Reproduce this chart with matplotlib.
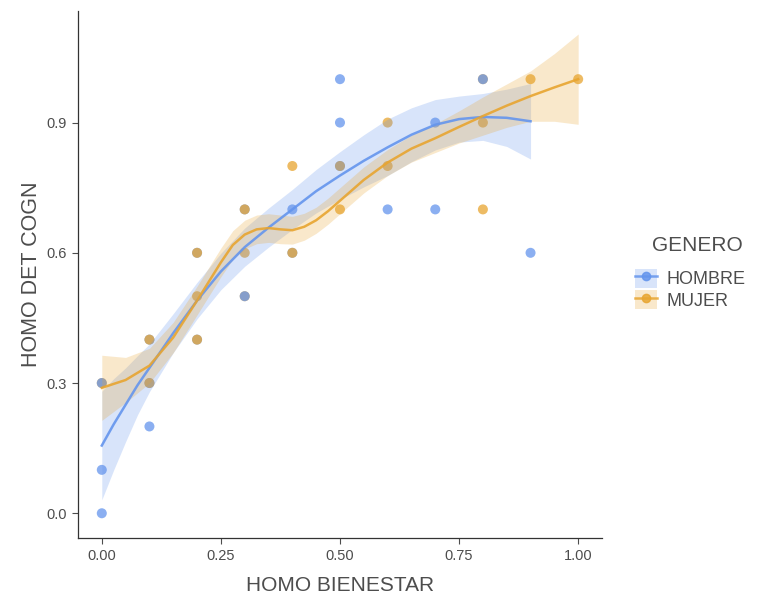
import matplotlib.pyplot as plt
from matplotlib.lines import Line2D
from matplotlib.patches import Patch

plt.rcParams["font.family"] = ["Liberation Sans", "DejaVu Sans"]

# ---------------------------------------------------------------------------
# Datos, en el orden en que se dibujan
# ---------------------------------------------------------------------------
punto_x = [0.0, 0.0, 0.1, 0.4, 0.5, 0.5, 0.6, 0.7, 0.7, 0.9,
           0.1, 0.1, 0.2, 0.2, 0.3, 0.4, 0.5,
           0.1, 0.1, 0.2, 0.2, 0.3, 0.4, 0.5,
           0.0, 0.3, 0.8,
           0.0, 0.3, 0.8,
           0.2, 0.3, 0.4, 0.5, 0.6, 0.6, 0.8, 0.8, 0.9, 1.0]
punto_y = [0.0, 0.1, 0.2, 0.7, 0.9, 1.0, 0.7, 0.7, 0.9, 0.6,
           0.3, 0.4, 0.4, 0.6, 0.7, 0.6, 0.8,
           0.3, 0.4, 0.4, 0.6, 0.7, 0.6, 0.8,
           0.3, 0.5, 1.0,
           0.3, 0.5, 1.0,
           0.5, 0.6, 0.8, 0.7, 0.8, 0.9, 0.7, 0.9, 1.0, 1.0]
punto_genero = (["HOMBRE"] * 10 + ["HOMBRE"] * 7 + ["MUJER"] * 7
                + ["MUJER"] * 3 + ["HOMBRE"] * 3 + ["MUJER"] * 10)

# curvas suavizadas (loess) y semiancho de la banda
fit_h_x = [0.0, 0.025, 0.05, 0.075, 0.1, 0.15, 0.2, 0.25, 0.3, 0.35, 0.4, 0.45,
           0.5, 0.55, 0.6, 0.65, 0.7, 0.75, 0.8, 0.85, 0.9]
fit_h_y = [0.156, 0.205, 0.25, 0.295, 0.335, 0.415, 0.49, 0.557, 0.613, 0.658,
           0.70, 0.742, 0.778, 0.812, 0.843, 0.872, 0.895, 0.908, 0.913, 0.911, 0.903]
fit_h_se = [0.125, 0.105, 0.085, 0.068, 0.055, 0.045, 0.042, 0.042, 0.044, 0.045,
            0.046, 0.05, 0.055, 0.06, 0.065, 0.062, 0.058, 0.053, 0.054, 0.066, 0.087]

fit_m_x = [0.0, 0.05, 0.1, 0.15, 0.2, 0.25, 0.275, 0.3, 0.325, 0.35, 0.375, 0.4,
           0.425, 0.45, 0.475, 0.5, 0.55, 0.6, 0.65, 0.7, 0.75, 0.8, 0.85, 0.9,
           0.95, 1.0]
fit_m_y = [0.289, 0.307, 0.34, 0.405, 0.49, 0.578, 0.618, 0.642, 0.654, 0.657,
           0.654, 0.652, 0.66, 0.675, 0.696, 0.72, 0.768, 0.808, 0.84, 0.864,
           0.89, 0.915, 0.939, 0.961, 0.981, 1.0]
fit_m_se = [0.075, 0.052, 0.04, 0.035, 0.033, 0.033, 0.033, 0.033, 0.033, 0.033,
            0.033, 0.032, 0.031, 0.03, 0.03, 0.03, 0.03, 0.03, 0.031, 0.033,
            0.037, 0.044, 0.05, 0.058, 0.078, 0.104]

x_ticks = [0.0, 0.25, 0.5, 0.75, 1.0]
x_labels = ["0.00", "0.25", "0.50", "0.75", "1.00"]
y_ticks = [0.0, 0.3, 0.6, 0.9]
y_labels = ["0.0", "0.3", "0.6", "0.9"]

colores = {"HOMBRE": "#6495ED", "MUJER": "#E8A530"}
gris = "#4D4D4D"

# ---------------------------------------------------------------------------
# Grafico
# ---------------------------------------------------------------------------
fig = plt.figure(figsize=(7.6, 6.02), dpi=100)
ax = fig.add_axes([0.1026, 0.1063, 0.6895, 0.8754])

ax.scatter(punto_x, punto_y, s=52, c=[colores[g] for g in punto_genero],
           alpha=0.75, linewidths=0, zorder=2)

for fx, fy, se, col in [(fit_h_x, fit_h_y, fit_h_se, colores["HOMBRE"]),
                        (fit_m_x, fit_m_y, fit_m_se, colores["MUJER"])]:
    lo = [y - s for y, s in zip(fy, se)]
    hi = [y + s for y, s in zip(fy, se)]
    ax.fill_between(fx, lo, hi, color=col, alpha=0.25, linewidth=0, zorder=3)
    ax.plot(fx, fy, color=col, lw=1.8, alpha=0.9, zorder=4,
            solid_joinstyle="round")

ax.set_xlim(-0.05, 1.05)
ax.set_ylim(-0.057, 1.157)
ax.set_xticks(x_ticks, x_labels)
ax.set_yticks(y_ticks, y_labels)
ax.tick_params(colors=gris, labelsize=10.5, length=4, width=0.8)
ax.tick_params(axis="x", pad=4)
ax.tick_params(axis="y", pad=4)
for side in ["top", "right"]:
    ax.spines[side].set_visible(False)
for side in ["left", "bottom"]:
    ax.spines[side].set_color("#333333")
    ax.spines[side].set_linewidth(0.9)

ax.set_xlabel("HOMO BIENESTAR", fontsize=15, color=gris, labelpad=9)
ax.set_ylabel("HOMO DET COGN", fontsize=15.5, color=gris, labelpad=3)

handles = [
    (Patch(facecolor=colores[g], alpha=0.25, linewidth=0),
     Line2D([], [], color=colores[g], lw=1.8, marker="o", markersize=6, alpha=0.85))
    for g in ["HOMBRE", "MUJER"]
]
fig.text(652 / 760, 1 - 245 / 602, "GENERO", fontsize=15, color=gris,
         ha="left", va="center")
leg = fig.legend(handles, ["HOMBRE", "MUJER"], loc="upper left",
                 bbox_to_anchor=(622 / 760, 1 - 256 / 602), frameon=False,
                 fontsize=13, handlelength=1.25, handleheight=1.25,
                 handletextpad=0.5, labelspacing=0.1, borderpad=0.2,
                 labelcolor=gris)

fig.savefig("out.png", dpi=100, facecolor="white")
